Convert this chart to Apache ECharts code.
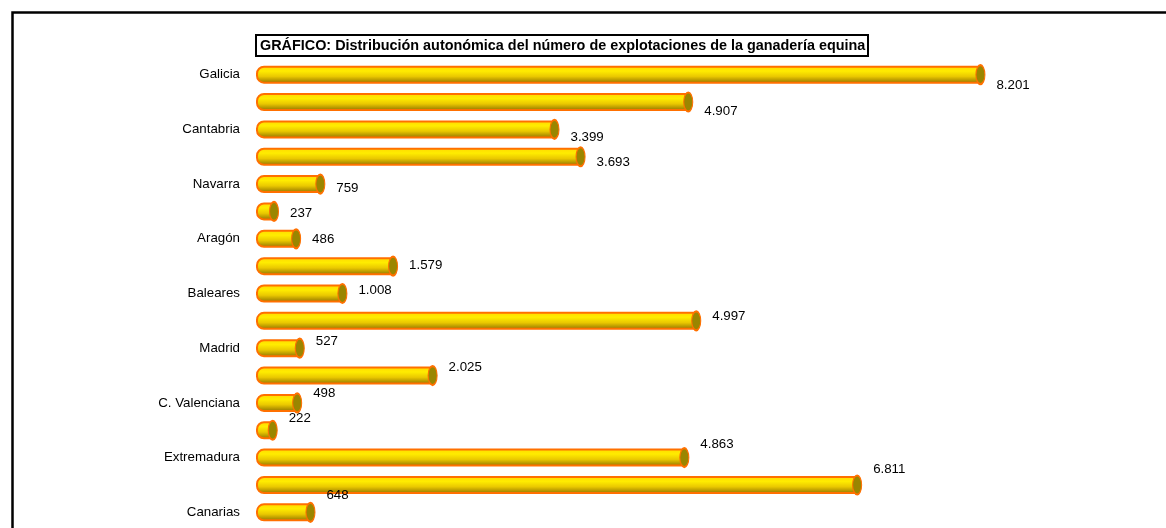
<!DOCTYPE html>
<html>
<head>
<meta charset="utf-8">
<script src="https://cdn.jsdelivr.net/npm/echarts@6/dist/echarts.min.js"></script>
<style>html,body{margin:0;padding:0;background:#fff}#c{width:1166px;height:528px}</style>
</head>
<body>
<div id="c"></div>
<script>
const titleText = 'GRÁFICO: Distribución autonómica del número de explotaciones de la ganadería equina';
const categories = ['Galicia','Asturias','Cantabria','País Vasco','Navarra','La Rioja','Aragón','Cataluña','Baleares','Castilla y León','Madrid','Castilla-La Mancha','C. Valenciana','Murcia','Extremadura','Andalucía','Canarias'];
const values = [8201,4907,3399,3693,759,237,486,1579,1008,4997,527,2025,498,222,4863,6811,648];

const fmt = v => String(v).replace(/\B(?=(\d{3})+(?!\d))/g, '.');
const n = values.length;

const chart = echarts.init(document.getElementById('c'), null, {renderer: 'canvas'});
chart.setOption({
  animation: false,
  backgroundColor: '#fff',
  title: {
    text: titleText,
    left: 256, top: 35,
    padding: [4, 3, 3, 4],
    borderColor: '#000', borderWidth: 2,
    textStyle: {fontFamily: 'Liberation Sans, Arial', fontSize: 14.4, fontWeight: 'bold', color: '#000'}
  },
  graphic: [{
    type: 'rect', left: 10, top: 10, z: -1,
    shape: {width: 1300, height: 700},
    style: {fill: 'none', stroke: '#000', lineWidth: 2.5}
  }],
  grid: {left: 256, top: 61, right: 23, bottom: 2},
  xAxis: {type: 'value', min: 0, max: 10000, show: false},
  yAxis: {
    type: 'category', data: categories, inverse: true,
    axisLine: {show: false}, axisTick: {show: false},
    axisLabel: {interval: 1, margin: 16, fontFamily: 'Liberation Sans, Arial', fontSize: 13.3, color: '#000'}
  },
  series: [{
    type: 'bar',
    barWidth: 18,
    data: values.map((v, i) => ({
      value: v,
      label: {offset: [8, 11 - i * 28 / (n - 1)]}
    })),
    itemStyle: {
      color: new echarts.graphic.LinearGradient(0, 0, 0, 1, [
        {offset: 0, color: '#FFD800'},
        {offset: 0.3, color: '#FFEC00'},
        {offset: 0.6, color: '#EAC800'},
        {offset: 1, color: '#8A6E00'}
      ]),
      borderColor: '#FF7000', borderWidth: 2,
      borderRadius: [7, 3, 3, 7]
    },
    label: {
      show: true, position: 'right', distance: 5,
      formatter: p => fmt(p.value),
      fontFamily: 'Liberation Sans, Arial', fontSize: 13.3, color: '#000'
    }
  }, {
    type: 'scatter',
    data: values.map((v, i) => [v, i]),
    symbol: 'circle',
    symbolSize: [9, 19],
    symbolOffset: [-3, 0],
    z: 3,
    itemStyle: {color: '#9A8600', borderColor: '#FF7000', borderWidth: 1.5, opacity: 1},
    silent: true
  }]
});
</script>
</body>
</html>
